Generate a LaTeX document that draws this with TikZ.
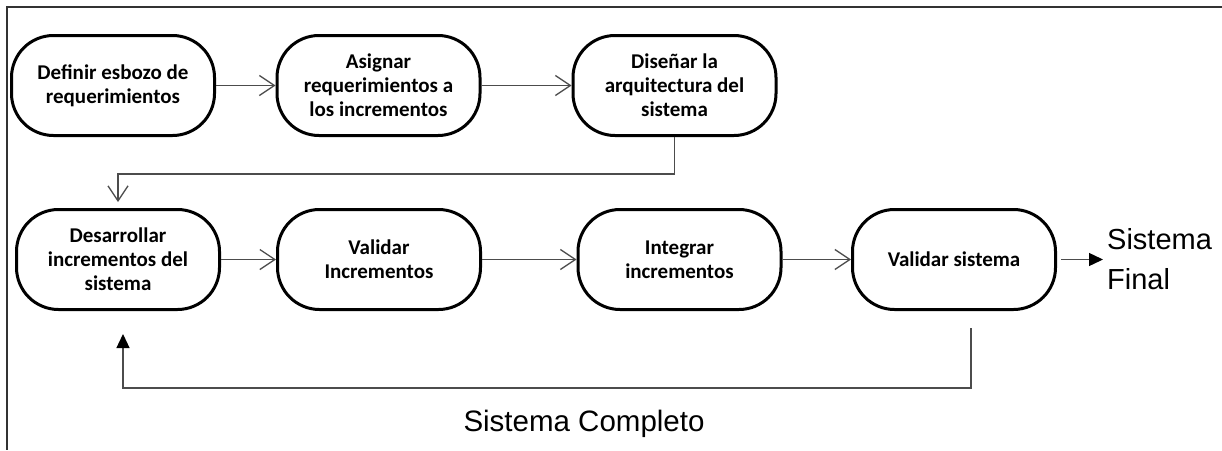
\documentclass[tikz,border=0pt]{standalone}
\usepackage{fontspec}
\setmainfont{Liberation Sans}
\newfontfamily\boxfont{Carlito}
\usetikzlibrary{arrows.meta,positioning,calc}
\tikzstyle{stage} = [rectangle, draw, line width=3pt, rounded corners=42pt, minimum width=203pt, minimum height=100pt, align=center, font=\boxfont\bfseries\fontsize{21}{24}\selectfont]
\tikzstyle{line} = [draw, line width=1.3pt, black!70, -{Straight Barb[length=15pt,width=20pt]}]
\tikzstyle{fline} = [draw, line width=1.3pt, black!70, -{Triangle[length=14pt,width=13pt,fill=black,color=black]}]

\begin{document}
\begin{tikzpicture}[x=1pt, y=1pt, every node/.style={inner sep=0pt}]
		\useasboundingbox (0,0) rectangle (1222,-450);
		% frame
		\draw[line width=2pt, black!80] (1222,-6.5) -- (7,-6.5) -- (7,-450);

		% Row 1
		\node[stage] (def) at (113,-85.5) {Definir esbozo de\\requerimientos};
		\node[stage, right of = def, node distance = 265.5pt] (asig) {Asignar\\requerimientos a\\los incrementos};
		\node[stage, right of = asig, node distance = 296pt] (arq) {Diseñar la\\arquitectura del\\sistema};

		% Row 2
		\node[stage, below of = def, node distance = 174pt, xshift=5pt] (des) {Desarrollar\\incrementos del\\sistema};
		\node[stage, right of = des, node distance = 261pt] (valinc) {Validar\\Incrementos};
		\node[stage, right of = valinc, node distance = 300.5pt] (integ) {Integrar\\incrementos};
		\node[stage, right of = integ, node distance = 274.5pt] (valsis) {Validar sistema};

		% outputs
		\node[anchor=west, align=left, font=\fontsize{29}{40}\selectfont] (fin) at ($(valsis.east)+(50,0)$) {Sistema\\Final};
		\node[anchor=base, font=\fontsize{29.5}{34}\selectfont] (completo) at (584,-431) {Sistema Completo};

		% Paths
		\path [line] (def) -- (asig);
		\path [line] (asig) -- (arq);
		\path [line, shorten >=6pt] (arq.south) -- ++(0,-37) -| (des.north);
		\path [line] (des) -- (valinc);
		\path [line] (valinc) -- (integ);
		\path [line] (integ) -- (valsis);
		\path [fline, shorten <=4pt, shorten >=4pt] (valsis.east) -- (fin.west);
		\path [fline] ([xshift=17pt,yshift=-17pt]valsis.south) -- ++(0,-60) -| ([xshift=5pt,yshift=-23pt]des.south);

	\end{tikzpicture}
\end{document}
